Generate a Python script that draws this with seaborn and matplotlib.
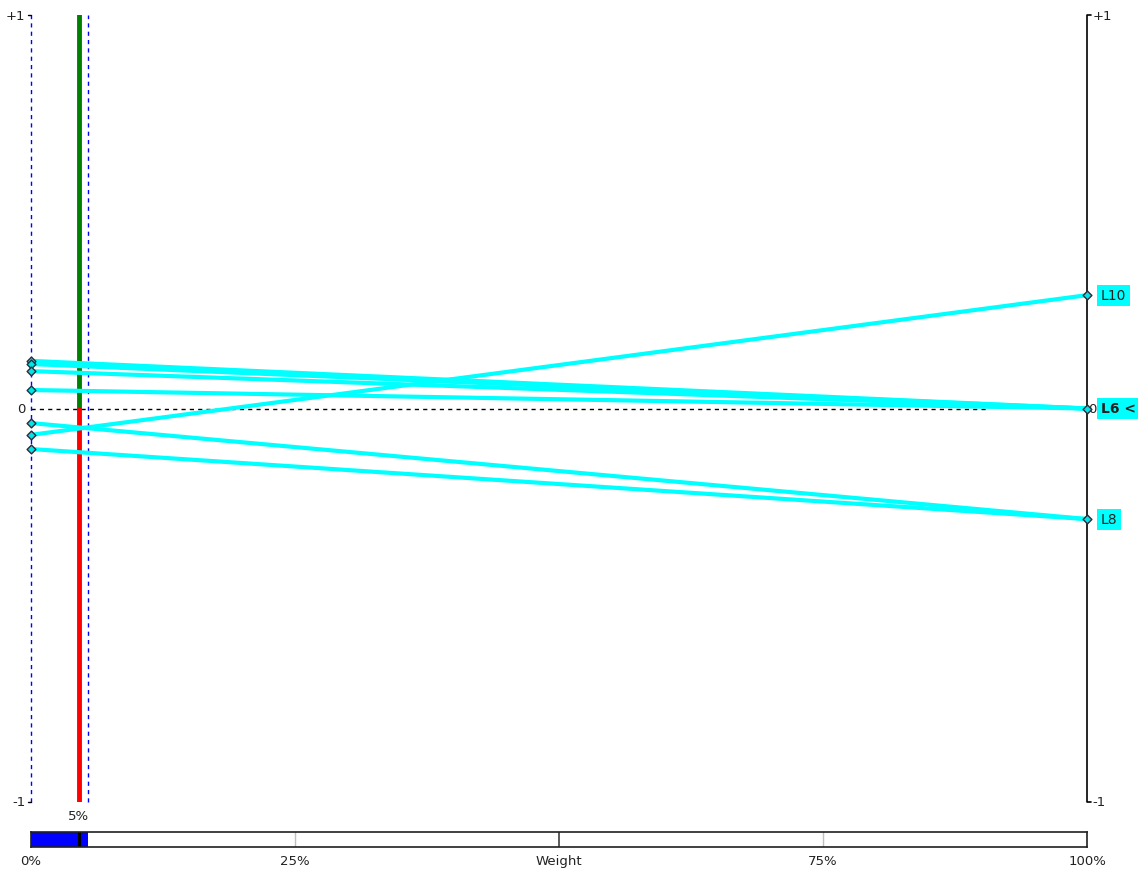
"""
Weight sensitivity chart: criterion weight from 0% to 100%,
alternative scores at each end (-1 .. +1).
"""

import numpy as np
import pandas as pd
import seaborn as sns
import matplotlib.pyplot as plt

# -----------------
# Data
# -----------------
line_ids = ["a", "b", "c", "d", "L8a", "L10", "L8"]
score_at_0 = [0.121, 0.113, 0.095, 0.047, -0.037, -0.067, -0.103]
score_at_100 = [0.0, 0.0, 0.0, 0.0, -0.281, 0.288, -0.281]

end_labels = ["L10", "L6 <", "L8"]
end_values = [0.288, 0.0, -0.281]
end_bold = [False, True, False]

current_weight = 0.045
current_weight_label = "5%"
weight_range = [0.0, 0.054]
weight_ticks = [0.0, 0.25, 0.5, 0.75, 1.0]
weight_tick_labels = ["0%", "25%", "Weight", "75%", "100%"]

# long-form frame for seaborn
df = pd.DataFrame({
    "line": np.repeat(line_ids, 2),
    "weight": [0.0, 1.0] * len(line_ids),
    "score": np.ravel(np.column_stack([score_at_0, score_at_100])),
})

# -----------------
# Plot
# -----------------
sns.set_theme(style="white")
plt.rcParams["font.family"] = ["DejaVu Sans"]
TXT = "#222222"
FS = 9.5

W, H = 1138, 870
fig = plt.figure(figsize=(W / 100, H / 100), dpi=100)
fig.patch.set_facecolor("white")

# main area: x 31..1087 px, y 16..803 px
ax = fig.add_axes([31 / W, (H - 803) / H, 1056 / W, 787 / H])
ax.set_xlim(0, 1)
ax.set_ylim(-1, 1)

# zero reference line
ax.plot([0, 0.906], [0, 0], ls=(0, (3, 3)), color="black", lw=1, zorder=1)

# weight range (blue dashed) and current weight (green/red)
for wx in weight_range:
    ax.plot([wx, wx], [-1, 1], ls=(0, (3, 3)), color="#0000FF", lw=1, zorder=1,
            clip_on=False)
ax.plot([current_weight] * 2, [0, 1], color="#008000", lw=3.5, zorder=2,
        solid_capstyle="round")
ax.plot([current_weight] * 2, [0, -1], color="#FF0000", lw=3.5, zorder=2,
        solid_capstyle="round")

# right axis with end brackets
ax.plot([1.004, 1, 1, 1.004], [1, 1, -1, -1], color="black", lw=1.2,
        clip_on=False, zorder=1)
ax.plot([-0.003, 0], [1, 1], color="black", lw=1, clip_on=False)
ax.plot([-0.003, 0], [-1, -1], color="black", lw=1, clip_on=False)

# alternative lines
sns.lineplot(data=df, x="weight", y="score", units="line", estimator=None,
             color="#00FFFF", lw=3, ax=ax, zorder=3, legend=False)
ax.scatter([0] * len(score_at_0), score_at_0, marker="D", s=20,
           facecolor="#00E5E5", edgecolor="#203040", lw=1, zorder=5,
           clip_on=False)
ax.scatter([1] * len(end_values), end_values, marker="D", s=20,
           facecolor="#00E5E5", edgecolor="#203040", lw=1, zorder=5,
           clip_on=False)
ax.set_xlabel("")
ax.set_ylabel("")
ax.axis("off")

# end labels with cyan boxes
for lab, val, bold in zip(end_labels, end_values, end_bold):
    ax.annotate(lab, xy=(1, val), xytext=(10, 0), textcoords="offset points",
                ha="left", va="center", fontsize=10,
                fontweight="bold" if bold else "normal", color=TXT,
                bbox=dict(boxstyle="square,pad=0.25", fc="#00FFFF", ec="none"),
                annotation_clip=False)

# axis value labels
ax.annotate("+1", xy=(0, 1), xytext=(-4, 0), textcoords="offset points",
            ha="right", va="center", fontsize=FS, color=TXT, annotation_clip=False)
ax.annotate("0", xy=(0, 0), xytext=(-4, 0), textcoords="offset points",
            ha="right", va="center", fontsize=FS, color=TXT, annotation_clip=False)
ax.annotate("-1", xy=(0, -1), xytext=(-4, 0), textcoords="offset points",
            ha="right", va="center", fontsize=FS, color=TXT, annotation_clip=False)
ax.annotate("+1", xy=(1, 1), xytext=(4, 0), textcoords="offset points",
            ha="left", va="center", fontsize=FS, color=TXT, annotation_clip=False)
ax.annotate("0", xy=(1, 0), xytext=(1, 0), textcoords="offset points",
            ha="left", va="center", fontsize=FS, color=TXT, annotation_clip=False)
ax.annotate("-1", xy=(1, -1), xytext=(4, 0), textcoords="offset points",
            ha="left", va="center", fontsize=FS, color=TXT, annotation_clip=False)
ax.annotate(current_weight_label, xy=(current_weight, -1), xytext=(0, -10),
            textcoords="offset points", ha="center", va="center", fontsize=FS,
            color=TXT, annotation_clip=False)

# weight bar: x 31..1087 px, y 833..848 px
bx = fig.add_axes([31 / W, (H - 848) / H, 1056 / W, 15 / H])
bx.set_xlim(0, 1)
bx.set_ylim(0, 1)
bx.set_xticks([])
bx.set_yticks([])
for sp in bx.spines.values():
    sp.set_visible(True)
    sp.set_color("#202020")
    sp.set_linewidth(1.2)
bx.axvspan(weight_range[0], weight_range[1], color="#0000FF", lw=0)
bx.axvline(0.25, color="#C0C0C0", lw=1)
bx.axvline(0.5, color="#404040", lw=1.2)
bx.axvline(0.75, color="#C0C0C0", lw=1)
bx.axvline(current_weight, color="black", lw=2.2)
for t, lab in zip(weight_ticks, weight_tick_labels):
    bx.text(t, -0.9, lab, ha="center", va="center", fontsize=FS, color=TXT,
            transform=bx.get_xaxis_transform())

fig.savefig("out.png", dpi=100, facecolor="white")
